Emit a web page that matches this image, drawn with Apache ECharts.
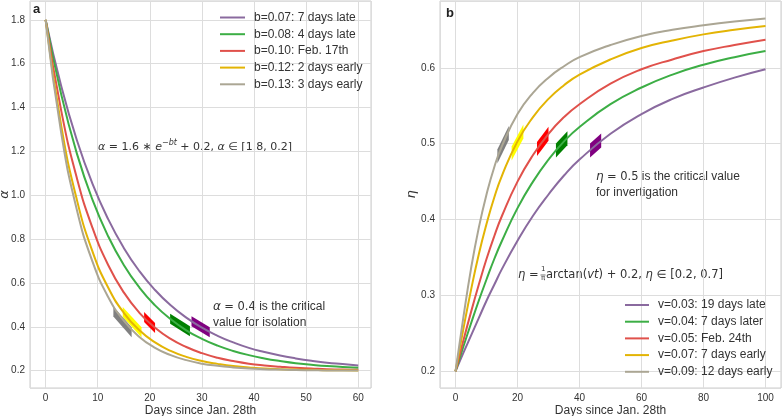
<!DOCTYPE html>
<html><head><meta charset="utf-8">
<script src="https://cdn.jsdelivr.net/npm/echarts@6/dist/echarts.min.js"></script>
<style>html,body{margin:0;padding:0;background:#fff}#c{width:782px;height:416px}</style>
</head><body><div id="c"></div>
<script>
// ---------- panel a : alpha ----------
const daysA = [0,3,6,9,12,15,18,21,24,27,30,33,36,39,42,45,48,51,54,57,60];
const alphaB007 = [1.800,1.497,1.251,1.052,0.891,0.760,0.654,0.568,0.498,0.442,0.396,0.359,0.329,0.304,0.285,0.269,0.256,0.245,0.236,0.230,0.224];
const alphaB008 = [1.800,1.459,1.190,0.979,0.813,0.682,0.579,0.498,0.435,0.384,0.345,0.314,0.290,0.271,0.256,0.244,0.234,0.227,0.221,0.217,0.213];
const alphaB010 = [1.800,1.385,1.078,0.851,0.682,0.557,0.464,0.396,0.345,0.308,0.280,0.259,0.244,0.232,0.224,0.218,0.213,0.210,0.207,0.205,0.204];
const alphaB012 = [1.800,1.316,0.979,0.743,0.579,0.464,0.384,0.329,0.290,0.263,0.244,0.231,0.221,0.215,0.210,0.207,0.205,0.204,0.202,0.202,0.201];
const alphaB013 = [1.800,1.283,0.933,0.697,0.536,0.428,0.354,0.304,0.271,0.248,0.232,0.222,0.215,0.210,0.207,0.205,0.203,0.202,0.201,0.201,0.201];
const namesA = ['b=0.07: 7 days late','b=0.08: 4 days late','b=0.10: Feb. 17th','b=0.12: 2 days early','b=0.13: 3 days early'];
// critical-point markers: [t start, alpha start, t end, alpha end]
const markA_b007 = [28.0,0.425,31.5,0.375];
const markA_b008 = [23.9,0.437,27.7,0.380];
const markA_b010 = [18.9,0.445,21.0,0.395];
const markA_b012 = [14.8,0.468,18.4,0.375];
const markA_b013 = [13.0,0.470,16.5,0.375];

// ---------- panel b : eta ----------
const daysB = [0,2.5,5,7.5,10,12.5,15,20,25,30,35,40,50,60,70,80,90,100];
const etaV003 = [0.200,0.224,0.247,0.270,0.293,0.314,0.335,0.372,0.405,0.433,0.458,0.479,0.513,0.539,0.559,0.574,0.587,0.598];
const etaV004 = [0.200,0.232,0.263,0.293,0.321,0.348,0.372,0.415,0.450,0.479,0.503,0.522,0.552,0.574,0.591,0.604,0.614,0.622];
const etaV005 = [0.200,0.240,0.278,0.314,0.348,0.378,0.405,0.450,0.485,0.513,0.535,0.552,0.579,0.598,0.611,0.622,0.630,0.637];
const etaV007 = [0.200,0.255,0.307,0.354,0.394,0.429,0.458,0.503,0.535,0.559,0.577,0.591,0.611,0.626,0.636,0.644,0.650,0.655];
const etaV009 = [0.200,0.270,0.335,0.389,0.433,0.469,0.497,0.539,0.567,0.587,0.602,0.614,0.630,0.642,0.650,0.656,0.661,0.665];
const namesB = ['v=0.03: 19 days late','v=0.04: 7 days later','v=0.05: Feb. 24th','v=0.07: 7 days early','v=0.09: 12 days early'];
const markB_v003 = [43.4,0.491,47.0,0.504];
const markB_v004 = [32.4,0.491,36.1,0.507];
const markB_v005 = [26.3,0.493,30.0,0.513];
const markB_v007 = [18.1,0.487,21.9,0.516];
const markB_v009 = [13.5,0.483,17.2,0.514];

// ---------- styles ----------
const lineColors = ['#8a6a9f','#3cae45','#e0514b','#e3b404','#aba694'];
const markColors = ['#800080','#008000','#ff0000','#ffff00','#808080'];
const TXT = '#333';
const FONT = 'Liberation Sans, Arial, sans-serif';
const MATH = 'DejaVu Sans';

const chart = echarts.init(document.getElementById('c'), null, {renderer:'canvas'});

function zip(xs, ys){ return xs.map((x,i)=>[x, ys[i]]); }
function markerRender(h){
  return function(params, api){
    const p1 = api.coord([api.value(0), api.value(1)]);
    const p2 = api.coord([api.value(2), api.value(3)]);
    return {type:'polygon',
      shape:{points:[[p1[0],p1[1]-h],[p2[0],p2[1]-h],[p2[0],p2[1]+h],[p1[0],p1[1]+h]]},
      style:{fill: markColors[params.dataIndex]}};
  };
}

const seriesA = [alphaB007,alphaB008,alphaB010,alphaB012,alphaB013].map((ys,i)=>({
  type:'line', name:namesA[i], xAxisIndex:0, yAxisIndex:0, data:zip(daysA,ys),
  showSymbol:false, smooth:0.5, z:5,
  lineStyle:{color:lineColors[i], width:2}, itemStyle:{color:lineColors[i]}
}));
const seriesB = [etaV003,etaV004,etaV005,etaV007,etaV009].map((ys,i)=>({
  type:'line', name:namesB[i], xAxisIndex:1, yAxisIndex:1, data:zip(daysB,ys),
  showSymbol:false, smooth:0.5, z:5,
  lineStyle:{color:lineColors[i], width:2}, itemStyle:{color:lineColors[i]}
}));

function xAx(grid, min, max, split){
  return {type:'value', gridIndex:grid, min:min, max:max, splitNumber:split,
    axisLine:{show:false}, axisTick:{show:false},
    axisLabel:{showMinLabel:false, showMaxLabel:false, fontSize:10, color:TXT, fontFamily:FONT, margin:5},
    splitLine:{show:true, lineStyle:{color:'#dddddd', width:1}},
    name:'Days since Jan. 28th', nameLocation:'middle', nameGap:17, nameMoveOverlap:false,
    nameTextStyle:{fontSize:12, color:TXT, fontFamily:FONT}};
}
function yAx(grid, min, max, split, name, gap){
  return {type:'value', gridIndex:grid, min:min, max:max, splitNumber:split,
    axisLine:{show:false}, axisTick:{show:false},
    axisLabel:{showMinLabel:false, showMaxLabel:false, fontSize:10, color:TXT, fontFamily:FONT, margin:5,
      formatter:(v)=>v.toFixed(1)},
    splitLine:{show:true, lineStyle:{color:'#dddddd', width:1}},
    name:name, nameLocation:'middle', nameGap:gap, nameMoveOverlap:false,
    nameTextStyle:{fontSize:13, color:TXT, fontFamily:MATH, fontStyle:'italic'}};
}

const option = {
  backgroundColor:'#fff',
  animation:false,
  grid:[
    {left:30, top:1, width:341, height:387, show:true, borderColor:'#cccccc', borderWidth:1, containLabel:false, outerBoundsMode:'none'},
    {left:440, top:1, width:341, height:387, show:true, borderColor:'#cccccc', borderWidth:1, containLabel:false, outerBoundsMode:'none'}
  ],
  xAxis:[ xAx(0,-3,62.45,6), xAx(1,-5,105,5) ],
  yAxis:[ yAx(0,0.121,1.886,8,'α',19), yAx(1,0.178,0.688,5,'η',22) ],
  legend:[
    {data:namesA, orient:'vertical', left:220, top:11.5, padding:0, icon:'rect', itemWidth:25, itemHeight:2,
     itemGap:4.7, textStyle:{fontSize:12, color:TXT, fontFamily:FONT, padding:[0,0,0,4]}},
    {data:namesB, orient:'vertical', left:625, top:299, padding:0, icon:'rect', itemWidth:24, itemHeight:2,
     itemGap:4.7, textStyle:{fontSize:12, color:TXT, fontFamily:FONT, padding:[0,0,0,4]}}
  ],
  graphic:[
    {type:'text', left:33, top:3, style:{text:'a', font:'bold 13px '+FONT, fill:'#222'}},
    {type:'text', left:446, top:7, style:{text:'b', font:'bold 13px '+FONT, fill:'#222'}},
    {type:'text', left:98, top:139, style:{
      text:'{i|α} = 1.6 ∗ {i|e}{s|−bt} + 0.2, {i|α} ∈ [1.8, 0.2]',
      font:'11px '+MATH, fill:TXT,
      rich:{i:{fontStyle:'italic', fontFamily:MATH, fontSize:11, lineHeight:17, fill:TXT},
            s:{fontStyle:'italic', fontFamily:MATH, fontSize:8, verticalAlign:'top', lineHeight:17, fill:TXT}}}},
    {type:'text', left:213, top:299, style:{
      text:'{i|α} {m|= 0.4} is the critical\nvalue for isolation',
      font:'12px '+FONT, fill:TXT, lineHeight:16,
      rich:{i:{fontStyle:'italic', fontFamily:MATH, fontSize:12, fill:TXT, lineHeight:16},
            m:{fontFamily:MATH, fontSize:11.5, fill:TXT, lineHeight:16}}}},
    {type:'text', left:596, top:169, style:{
      text:'{i|η} {m|= 0.5} is the critical value\nfor invertigation',
      font:'12px '+FONT, fill:TXT, lineHeight:16,
      rich:{i:{fontStyle:'italic', fontFamily:MATH, fontSize:12, fill:TXT, lineHeight:16},
            m:{fontFamily:MATH, fontSize:11.5, fill:TXT, lineHeight:16}}}},
    {type:'text', left:518, top:269, style:{
      text:'{i|η} =', font:'11.5px '+MATH, fill:TXT,
      rich:{i:{fontStyle:'italic', fontFamily:MATH, fontSize:11.5, fill:TXT}}}},
    {type:'text', left:541, top:266, style:{text:'1', font:'7px '+MATH, fill:TXT}},
    {type:'text', left:541, top:275, style:{text:'π', font:'7px '+MATH, fill:TXT}},
    {type:'line', shape:{x1:540.5, y1:275, x2:545.5, y2:275}, style:{stroke:TXT, lineWidth:0.7}},
    {type:'text', left:546, top:269, style:{
      text:'arctan({i|vt}) + 0.2, {i|η} ∈ [0.2, 0.7]', font:'11.5px '+MATH, fill:TXT,
      rich:{i:{fontStyle:'italic', fontFamily:MATH, fontSize:11.5, fill:TXT}}}}
  ],
  series:[
    {type:'custom', xAxisIndex:0, yAxisIndex:0, z:3, renderItem:markerRender(5),
     encode:{x:[0,2], y:[1,3]}, data:[markA_b007,markA_b008,markA_b010,markA_b012,markA_b013]},
    {type:'custom', xAxisIndex:1, yAxisIndex:1, z:3, renderItem:markerRender(7),
     encode:{x:[0,2], y:[1,3]}, data:[markB_v003,markB_v004,markB_v005,markB_v007,markB_v009]},
    ...seriesA, ...seriesB
  ]
};
chart.setOption(option);
</script></body></html>
